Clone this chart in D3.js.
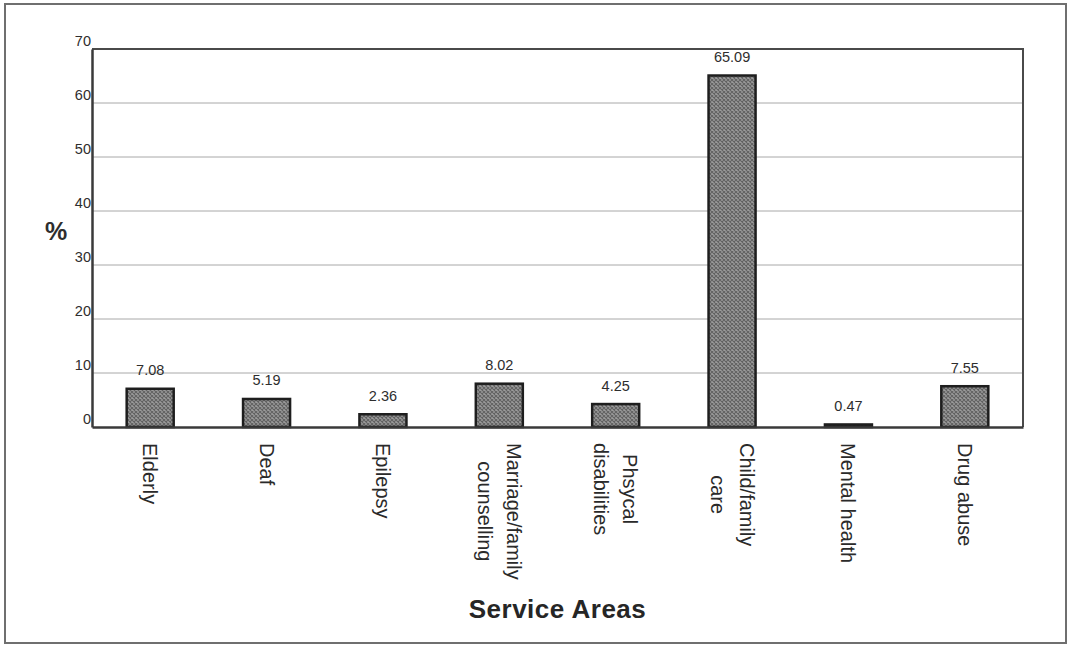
<!DOCTYPE html>
<html>
<head>
<meta charset="utf-8">
<script src="https://cdn.jsdelivr.net/npm/d3@7"></script>
<style>
  html, body { margin: 0; padding: 0; background: #fff; }
  svg { display: block; }
  text { font-family: "Liberation Sans", Arial, Helvetica, sans-serif; }
</style>
</head>
<body>
<svg id="chart" width="1073" height="645"></svg>
<script>
// Share of services by service area (%)
const categories = [
  "Elderly",
  "Deaf",
  "Epilepsy",
  "Marriage/family\ncounselling",
  "Phsycal\ndisabilities",
  "Child/family\ncare",
  "Mental health",
  "Drug abuse"
];
const values = [7.08, 5.19, 2.36, 8.02, 4.25, 65.09, 0.47, 7.55];
const yTicks = [0, 10, 20, 30, 40, 50, 60, 70];
const yLabel = "%";
const xLabel = "Service Areas";

const svg = d3.select("#chart");
const plot = { left: 92, right: 1023, top: 49, bottom: 427 };

// hatched grey fill for the bars
const defs = svg.append("defs");
const pat = defs.append("pattern")
  .attr("id", "hatch")
  .attr("patternUnits", "userSpaceOnUse")
  .attr("width", 4).attr("height", 4);
pat.append("rect").attr("width", 4).attr("height", 4).attr("fill", "#9c9c9c");
pat.append("path").attr("d", "M0,0L4,4M4,0L0,4")
  .attr("stroke", "#626262").attr("stroke-width", 1.1);

// outer frame
svg.append("rect")
  .attr("x", 5).attr("y", 4).attr("width", 1061).attr("height", 639)
  .attr("fill", "none").attr("stroke", "#6f6f6f").attr("stroke-width", 2);

const x = d3.scaleBand()
  .domain(categories)
  .range([plot.left, plot.right])
  .paddingInner(0.596)
  .paddingOuter(0.298);

const y = d3.scaleLinear()
  .domain([0, 70])
  .range([plot.bottom, plot.top]);

// horizontal gridlines
svg.append("g")
  .selectAll("line")
  .data(yTicks.filter(t => t > 0 && t < 70))
  .join("line")
  .attr("x1", plot.left).attr("x2", plot.right)
  .attr("y1", d => y(d)).attr("y2", d => y(d))
  .attr("stroke", "#a8a8a8").attr("stroke-width", 1);

// plot frame (top and right edges)
svg.append("path")
  .attr("d", `M${plot.left},${y(70)}H${plot.right}V${plot.bottom}`)
  .attr("fill", "none").attr("stroke", "#4a4a4a").attr("stroke-width", 2);

// y axis
const yAxis = svg.append("g")
  .attr("transform", `translate(${plot.left},0)`)
  .call(d3.axisLeft(y).tickValues(yTicks).tickSize(0).tickPadding(1).tickSizeOuter(0));
yAxis.select(".domain").attr("stroke", "#3a3a3a").attr("stroke-width", 2.5);
yAxis.selectAll("text")
  .attr("dy", "-0.25em")
  .attr("fill", "#2e2e2e")
  .style("font-size", "14.5px");

// bars
svg.append("g")
  .selectAll("rect")
  .data(values)
  .join("rect")
  .attr("x", (d, i) => x(categories[i]))
  .attr("y", d => y(d))
  .attr("width", x.bandwidth())
  .attr("height", d => y(0) - y(d))
  .attr("fill", "url(#hatch)")
  .attr("stroke", "#1e1e1e")
  .attr("stroke-width", 2.5);

// x axis baseline
const xAxis = svg.append("g")
  .attr("transform", `translate(0,${plot.bottom})`)
  .call(d3.axisBottom(x).tickSize(0).tickSizeOuter(0).tickFormat(""));
xAxis.select(".domain").attr("stroke", "#3a3a3a").attr("stroke-width", 2.5);

// value labels
svg.append("g")
  .selectAll("text")
  .data(values)
  .join("text")
  .attr("x", (d, i) => x(categories[i]) + x.bandwidth() / 2)
  .attr("y", d => y(d) - 13.5)
  .attr("text-anchor", "middle")
  .attr("fill", "#2e2e2e")
  .style("font-size", "14.5px")
  .text(d => d3.format(".2f")(d));

// category labels, rotated, lines centred on each other
const labelTop = 443, lineGap = 29;
const catG = svg.append("g");
categories.forEach((c, i) => {
  const lines = c.split("\n");
  const cx = x(c) + x.bandwidth() / 2;
  const t = catG.append("text")
    .attr("text-anchor", "middle")
    .attr("fill", "#2a2a2a")
    .style("font-size", "20px");
  lines.forEach((ln, k) => {
    t.append("tspan")
      .attr("x", 0)
      .attr("y", 7 + (k - (lines.length - 1) / 2) * lineGap)
      .text(ln);
  });
  const len = d3.max(t.selectAll("tspan").nodes(), n => n.getComputedTextLength());
  t.attr("transform", `translate(${cx},${labelTop + len / 2}) rotate(90)`);
});

// axis titles
svg.append("text")
  .attr("x", 56).attr("y", 240)
  .attr("text-anchor", "middle")
  .attr("fill", "#2e2e2e")
  .style("font-size", "25px").style("font-weight", "bold")
  .text(yLabel);

svg.append("text")
  .attr("x", (plot.left + plot.right) / 2).attr("y", 618)
  .attr("text-anchor", "middle")
  .attr("fill", "#262626")
  .style("font-size", "26px").style("font-weight", "bold")
  .style("letter-spacing", "0.5px")
  .text(xLabel);
</script>
</body>
</html>
